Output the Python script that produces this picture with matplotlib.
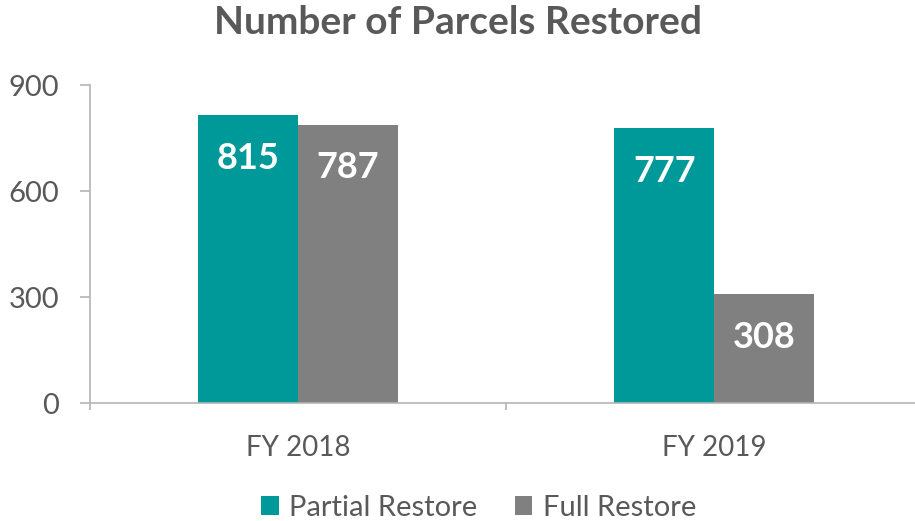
import numpy as np
import matplotlib.pyplot as plt

# data
categories = ["FY 2018", "FY 2019"]
partial = [815, 777]
full = [787, 308]
series_names = ["Partial Restore", "Full Restore"]

teal = "#009999"
grey = "#808080"
txt = "#595959"
axc = "#b4b4b4"

plt.rcParams['font.family'] = ['Lato', 'DejaVu Sans']

fig = plt.figure(figsize=(9.15, 5.21), dpi=100)
ax = fig.add_axes([90 / 915, 118 / 521, 832.5 / 915, 318 / 521])

x = np.arange(len(categories))
w = 0.24
b1 = ax.bar(x - w / 2, partial, w, color=teal, label=series_names[0])
b2 = ax.bar(x + w / 2, full, w, color=grey, label=series_names[1])

# value labels inside the top of each bar
for bars in (b1, b2):
    for r in bars:
        ax.annotate(str(int(r.get_height())),
                    (r.get_x() + r.get_width() / 2, r.get_height()),
                    xytext=(0, -31), textcoords="offset points",
                    ha="center", va="center", color="white",
                    fontsize=26, fontweight="bold")

ax.set_xlim(-0.5, 1.5)
ax.set_ylim(0, 900)
ax.set_yticks([0, 300, 600, 900])
ax.set_xticks(x)
ax.set_xticklabels(categories)
ax.set_xticks([-0.5, 0.5, 1.5], minor=True)
ax.tick_params(axis="x", which="major", length=0, pad=23, labelsize=20, labelcolor=txt)
ax.tick_params(axis="x", which="minor", length=5, width=1.2, color=axc)
ax.tick_params(axis="y", length=7, width=1.2, color=axc, labelsize=21,
               labelcolor=txt, pad=15)

for s in ("top", "right"):
    ax.spines[s].set_visible(False)
for s in ("left", "bottom"):
    ax.spines[s].set_color(axc)
    ax.spines[s].set_linewidth(1.2)

fig.suptitle("Number of Parcels Restored", x=0.5, y=0.99, fontsize=28,
             fontweight="bold", color=txt)

fig.legend(loc="center", bbox_to_anchor=(0.523, 0.025), ncol=2, frameon=False,
           fontsize=21, labelcolor=txt, handlelength=0.6, handleheight=0.6,
           handletextpad=0.35, columnspacing=1.3)

fig.savefig("out.png", dpi=100)
